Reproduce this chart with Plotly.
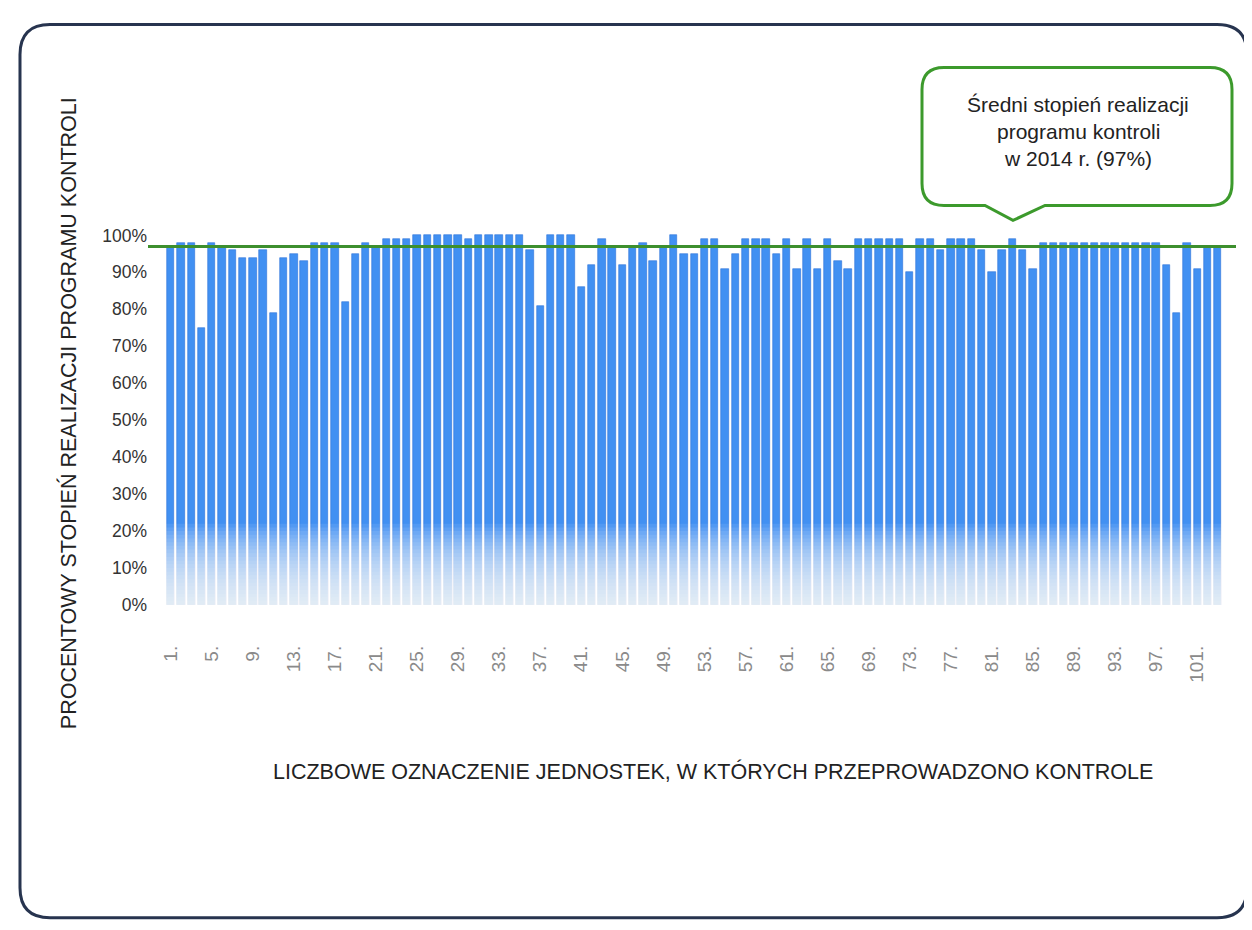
import plotly.graph_objects as go

# ---------------- data ----------------
units = list(range(1, 104))
values = [
    97, 98, 98, 75, 98, 97, 96, 94, 94, 96,
    79, 94, 95, 93, 98, 98, 98, 82, 95, 98,
    97, 99, 99, 99, 100, 100, 100, 100, 100, 99,
    100, 100, 100, 100, 100, 96, 81, 100, 100, 100,
    86, 92, 99, 97, 92, 97, 98, 93, 97, 100,
    95, 95, 99, 99, 91, 95, 99, 99, 99, 95,
    99, 91, 99, 91, 99, 93, 91, 99, 99, 99,
    99, 99, 90, 99, 99, 96, 99, 99, 99, 96,
    90, 96, 99, 96, 91, 98, 98, 98, 98, 98,
    98, 98, 98, 98, 98, 98, 98, 92, 79, 98,
    91, 97, 97,
]
average = 97
tick_units = list(range(1, 104, 4))
tick_labels = [f"{u}." for u in tick_units]
y_ticks = list(range(0, 101, 10))
y_tick_labels = [f"{t}%" for t in y_ticks]

y_title = "PROCENTOWY STOPIEŃ REALIZACJI PROGRAMU KONTROLI"
x_title = "LICZBOWE OZNACZENIE JEDNOSTEK, W KTÓRYCH PRZEPROWADZONO KONTROLE"
callout_lines = ["Średni stopień realizacji", "programu kontroli", "w 2014 r. (97%)"]

# ---------------- layout geometry ----------------
# page body has an 8px margin: screen coords = figure coords + 8
OFF = 8
W, H = 1252, 930
PLOT_L, PLOT_R, PLOT_T, PLOT_B = 150, 1240, 227.6, 605   # screen px
L = PLOT_L - OFF
R = W - (PLOT_R - OFF)
T = PLOT_T - OFF
B = H - (PLOT_B - OFF)


def px(x):
    return (x - PLOT_L) / (PLOT_R - PLOT_L)


def py(y):
    return (PLOT_B - y) / (PLOT_B - PLOT_T)


FONT = "Liberation Sans, Arial, sans-serif"

fig = go.Figure()
fig.add_trace(go.Bar(
    x=units, y=values, width=0.72,
    marker=dict(color="#4190f2", line=dict(color="#2d72da", width=0.6)),
    hoverinfo="x+y",
))

shapes = []
# fade of bars toward the bottom
for k in range(1, 23):
    shapes.append(dict(type="rect", xref="paper", yref="y", x0=0, x1=1, y0=0, y1=k,
                       fillcolor="white", opacity=0.085, line=dict(width=0), layer="above"))
# average line
shapes.append(dict(type="line", xref="paper", yref="y", x0=px(148), x1=px(1236),
                   y0=average, y1=average, line=dict(color="#3d8f2e", width=3), layer="above"))


def P(cmd, *coords):
    s = cmd
    for i in range(0, len(coords), 2):
        s += f" {px(coords[i]):.5f},{py(coords[i+1]):.5f}"
    return s


# callout box with tail
bl, br, bt, bb, r = 922, 1232, 67, 205, 22
tx0, tx1, tipx, tipy = 985, 1045, 1013, 220
path = " ".join([
    P("M", bl + r, bt),
    P("L", br - r, bt),
    P("Q", br, bt, br, bt + r),
    P("L", br, bb - r),
    P("Q", br, bb, br - r, bb),
    P("L", tx1, bb),
    P("L", tipx, tipy),
    P("L", tx0, bb),
    P("L", bl + r, bb),
    P("Q", bl, bb, bl, bb - r),
    P("L", bl, bt + r),
    P("Q", bl, bt, bl + r, bt),
    "Z",
])
shapes.append(dict(type="path", xref="paper", yref="paper", path=path,
                   fillcolor="white", line=dict(color="#3c9a2c", width=3), layer="above"))

# outer frame
fl, fr, ft, fb, fr_r = 20, 1247, 24, 918, 30
frame = " ".join([
    P("M", fl + fr_r, ft),
    P("L", fr - fr_r, ft),
    P("Q", fr, ft, fr, ft + fr_r),
    P("L", fr, fb - fr_r),
    P("Q", fr, fb, fr - fr_r, fb),
    P("L", fl + fr_r, fb),
    P("Q", fl, fb, fl, fb - fr_r),
    P("L", fl, ft + fr_r),
    P("Q", fl, ft, fl + fr_r, ft),
    "Z",
])
shapes.append(dict(type="path", xref="paper", yref="paper", path=frame,
                   line=dict(color="#27344f", width=3), layer="below"))

annotations = []
for i, line in enumerate(callout_lines):
    annotations.append(dict(xref="paper", yref="paper", x=px(1078), y=py(104 + 27 * i),
                            text=line, showarrow=False, xanchor="center", yanchor="middle",
                            font=dict(family=FONT, size=21, color="#222222")))
annotations.append(dict(xref="paper", yref="paper", x=px(68), y=py(413), text=y_title,
                        textangle=-90, showarrow=False, xanchor="center", yanchor="middle",
                        font=dict(family=FONT, size=21.5, color="#222222")))
annotations.append(dict(xref="paper", yref="paper", x=px(713), y=py(772), text=x_title,
                        showarrow=False, xanchor="center", yanchor="middle",
                        font=dict(family=FONT, size=21.5, color="#222222")))

x_lo = 1 - (170.7 - PLOT_L) / 10.265
x_hi = x_lo + (PLOT_R - PLOT_L) / 10.265

fig.update_layout(
    width=W, height=H, autosize=False,
    margin=dict(l=L, r=R, t=T, b=B),
    paper_bgcolor="white", plot_bgcolor="white",
    showlegend=False, bargap=0,
    shapes=shapes, annotations=annotations,
    xaxis=dict(range=[x_lo, x_hi], tickmode="array", tickvals=tick_units, ticktext=tick_labels,
               tickangle=-90, showgrid=False, zeroline=False, showline=False, ticks="",
               ticklabelstandoff=36,
               tickfont=dict(family=FONT, size=19, color="#8a8a8a")),
    yaxis=dict(range=[0, 102], tickmode="array", tickvals=y_ticks, ticktext=y_tick_labels,
               showgrid=False, zeroline=False, showline=False, ticks="",
               ticklabelstandoff=2,
               tickfont=dict(family=FONT, size=17.5, color="#333333")),
)

fig.write_html("out.html")
